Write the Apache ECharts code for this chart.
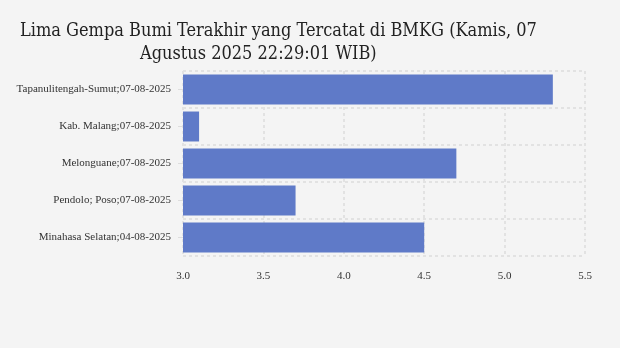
<!DOCTYPE html>
<html><head><meta charset="utf-8">
<script src="https://cdn.jsdelivr.net/npm/echarts@6/dist/echarts.min.js"></script>
<style>html,body{margin:0;padding:0;background:#f4f4f4}#c{width:620px;height:348px}</style>
</head><body><div id="c"></div>
<script>
const categories = ["Tapanulitengah-Sumut;07-08-2025","Kab. Malang;07-08-2025","Melonguane;07-08-2025","Pendolo; Poso;07-08-2025","Minahasa Selatan;04-08-2025"];
const magnitudes = [5.3, 3.1, 4.7, 3.7, 4.5];
const titleLine1 = "Lima Gempa Bumi Terakhir yang Tercatat di BMKG (Kamis, 07";
const titleLine2 = "Agustus 2025 22:29:01 WIB)";
const chart = echarts.init(document.getElementById('c'), null, {renderer:'canvas'});
const tStyle = {fontFamily:'DejaVu Serif Condensed, DejaVu Serif', fontSize:18, fontWeight:'normal', color:'#222'};
chart.setOption({
  backgroundColor:'#f4f4f4',
  animation:false,
  title:[
    {text:titleLine1, left:15, top:17, textStyle:tStyle},
    {text:titleLine2, left:135, top:40, textStyle:tStyle}
  ],
  grid:{left:183, right:35, top:71, bottom:92},
  xAxis:{type:'value', min:3, max:5.5, interval:0.5,
    axisLine:{show:false}, axisTick:{show:false},
    axisLabel:{formatter:v=>v.toFixed(1), margin:15, fontFamily:'Liberation Serif', fontSize:11, color:'#333'},
    splitLine:{show:true, lineStyle:{type:[3,3], color:'#e2e2e2', width:2}}},
  yAxis:{type:'category', data:categories, inverse:true,
    axisLine:{show:false},
    axisTick:{show:true, alignWithLabel:true, length:5, lineStyle:{color:'#ddd'}},
    axisLabel:{margin:12, fontFamily:'Liberation Serif', fontSize:11, color:'#333'},
    splitLine:{show:true, lineStyle:{type:[3,3], color:'#e2e2e2', width:2}}},
  series:[{type:'bar', data:magnitudes, barCategoryGap:'19%', itemStyle:{color:'#5f7ac8'}}]
});
</script></body></html>
